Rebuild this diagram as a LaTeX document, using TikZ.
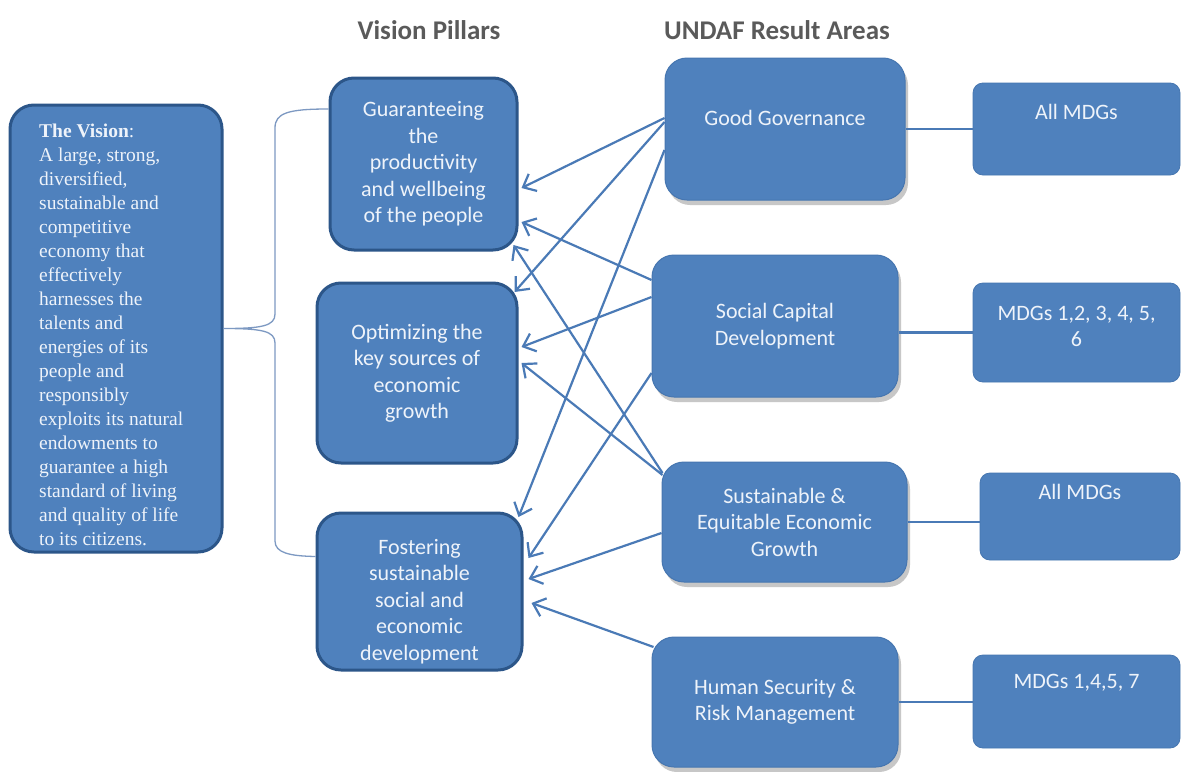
\documentclass[tikz,border=0pt]{standalone}
\usepackage{fontspec}
\setmainfont{Carlito}
\newfontfamily\timesf{Liberation Serif}
\usetikzlibrary{arrows.meta,shadows,calc}
\definecolor{boxblue}{HTML}{4F81BD}
\definecolor{darkrim}{HTML}{2C5689}
\definecolor{lightrim}{HTML}{4676B0}
\definecolor{arrowblue}{HTML}{4A7AB6}
\definecolor{bracec}{HTML}{7D99C2}
\definecolor{headgray}{HTML}{5A5A5A}
\definecolor{txt}{HTML}{EEF3FA}
\tikzset{
  boxtext/.style={text=txt, align=center, font=\fontsize{22}{26.5}\selectfont},
  pillarbox/.style={draw=darkrim, line width=3pt, fill=boxblue, rounded corners=24pt, inner sep=0pt, boxtext},
  undafbox/.style={draw=lightrim, line width=1pt, fill=boxblue, rounded corners=22pt, inner sep=0pt, boxtext,
     drop shadow={shadow xshift=3pt, shadow yshift=-5pt, fill=black!40, opacity=0.55}},
  mdgbox/.style={draw=lightrim, line width=0.8pt, fill=boxblue, rounded corners=10pt, inner sep=0pt, boxtext},
  plaintext/.style={boxtext, inner sep=0pt},
  header/.style={text=headgray, font=\bfseries\fontsize{27}{30}\selectfont, inner sep=0pt},
  link/.style={draw=arrowblue, line width=2.2pt, -{Straight Barb[length=11pt,width=19pt]}},
  plainlink/.style={draw=arrowblue, line width=2.4pt},
  bracel/.style={draw=bracec, line width=1.3pt}
}
\begin{document}
\begin{tikzpicture}[x=1pt,y=-1pt]
\useasboundingbox (0,0) rectangle (1182,771);
\fill[white] (0,0) rectangle (1182,771);

% headers
\node[header] (h1) at (429,30) {Vision Pillars};
\node[header] (h2) at (777,30) {UNDAF Result Areas};

% vision box
\node[pillarbox, minimum width=212pt, minimum height=447pt] (vision) at (116,328.5) {};
\node[text=txt, align=left, inner sep=0pt, anchor=north west, font=\timesf\fontsize{19.5}{24}\selectfont] (visiontxt) at (39,124)
 {\textbf{The Vision}:\\A large, strong,\\diversified,\\sustainable and\\competitive\\economy that\\effectively\\harnesses the\\talents and\\energies of its\\people and\\responsibly\\exploits its natural\\endowments to\\guarantee a high\\standard of living\\and quality of life\\to its citizens.};

% pillars
\node[pillarbox, minimum width=187pt, minimum height=172pt] (g) at (423.5,164) {Guaranteeing\\the\\productivity\\and wellbeing\\of the people};
\node[pillarbox, minimum width=200pt, minimum height=180pt] (o) at (417,373) {Optimizing the\\key sources of\\economic\\growth};
\node[pillarbox, minimum width=205pt, minimum height=157pt] (f) at (419.5,591.5) {};
\node[plaintext] (ftxt) at (419.5,601.5) {Fostering\\sustainable\\social and\\economic\\development};

% UNDAF areas
\node[undafbox, minimum width=240pt, minimum height=142pt] (gg) at (785,129) {};
\node[plaintext] (ggt) at (785,118) {Good Governance};
\node[undafbox, minimum width=246pt, minimum height=142pt] (sc) at (775,326) {Social Capital\\Development};
\node[undafbox, minimum width=245pt, minimum height=120pt] (se) at (784.5,522) {Sustainable \&\\Equitable Economic\\Growth};
\node[undafbox, minimum width=246pt, minimum height=130pt] (hs) at (775,702) {Human Security \&\\Risk Management};

% MDG boxes
\node[mdgbox, minimum width=207pt, minimum height=92pt] (m1) at (1076.5,129) {};
\node[plaintext] (m1t) at (1076.5,112) {All MDGs};
\node[mdgbox, minimum width=207pt, minimum height=99pt] (m2) at (1076.5,332.5) {};
\node[plaintext] (m2t) at (1076.5,326.5) {MDGs 1,2, 3, 4, 5,\\6};
\node[mdgbox, minimum width=200pt, minimum height=87pt] (m3) at (1080,516.5) {};
\node[plaintext] (m3t) at (1080,492) {All MDGs};
\node[mdgbox, minimum width=207pt, minimum height=93pt] (m4) at (1076.5,701.5) {};
\node[plaintext] (m4t) at (1076.5,683) {MDGs 1,4,5, 7};

% result area to MDG lines
\draw[plainlink] (gg.east |- m1.west) -- (m1.west);
\draw[plainlink] (sc.east |- m2.west) -- (m2.west);
\draw[plainlink] (se.east) -- (se.east -| m3.west);
\draw[plainlink] (hs.east) -- (hs.east -| m4.west);

% brace
\coordinate (btop) at ([yshift=55pt]g.west);
\coordinate (bbot) at ([yshift=35pt]f.west);
\draw[bracel] (btop) .. controls (288,109) and (275,113) .. (275,128) -- (275,314)
  .. controls (275,326) and (262,328.5) .. (vision.east)
  .. controls (262,328.5) and (275,331) .. (275,343) -- (275,541)
  .. controls (275,553) and (290,556) .. (bbot);

% arrows from Good Governance
\draw[link] ([yshift=11pt]gg.west) -- ([xshift=3pt,yshift=-24pt]g.east);
\draw[link] ([yshift=7pt]gg.west) -- ([xshift=-4pt,yshift=81pt]o.east);
\draw[link] ([yshift=-21pt]gg.west) -- ([xshift=-5pt,yshift=74.5pt]f.east);
% arrows from Social Capital
\draw[link] ([yshift=46pt]sc.west) -- ([xshift=3pt,yshift=-58pt]g.east);
\draw[link] ([yshift=29pt]sc.west) -- ([xshift=3pt,yshift=26pt]o.east);
\draw[link] ([yshift=-47pt]sc.west) -- ([xshift=5pt,yshift=33.5pt]f.east);
% arrows from Sustainable growth
\draw[link] ([xshift=1pt,yshift=49pt]se.west) -- ([xshift=-5pt,yshift=-81pt]g.east);
\draw[link] ([xshift=1pt,yshift=47pt]se.west) -- ([xshift=3pt,yshift=10pt]o.east);
\draw[link] ([yshift=-11pt]se.west) -- ([xshift=5pt,yshift=12.5pt]f.east);
% arrow from Human Security
\draw[link] ([xshift=2pt,yshift=55pt]hs.west) -- ([xshift=8pt,yshift=-11.5pt]f.east);
\end{tikzpicture}
\end{document}
